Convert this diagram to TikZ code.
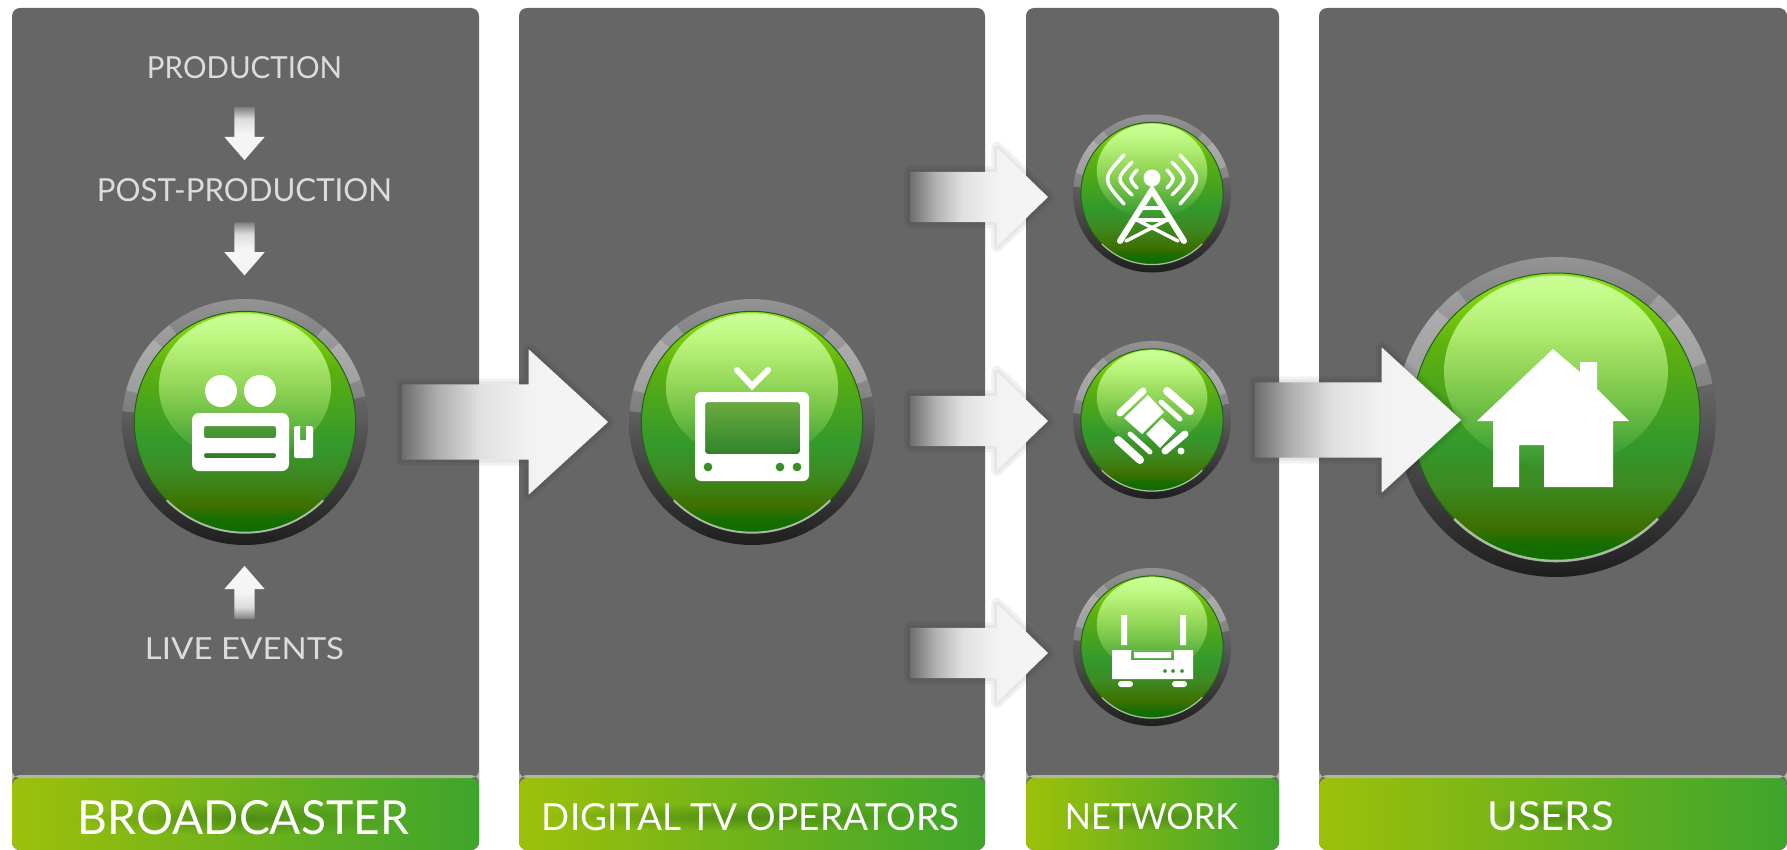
\documentclass[tikz,border=0pt]{standalone}
\usepackage{fontspec}
\setmainfont{Lato}
\usetikzlibrary{positioning, calc, shapes.geometric, shapes.arrows, fadings}
\definecolor{panelgrey}{HTML}{666666}
\definecolor{barleft}{HTML}{9DC00A}
\definecolor{barright}{HTML}{3EA52C}
\definecolor{barline}{HTML}{AEB89C}
\definecolor{halo}{HTML}{3F7A10}
\definecolor{glosscol}{HTML}{CCFF98}
\definecolor{thintext}{HTML}{DCDCDC}
\definecolor{faceedge}{HTML}{24601A}
\pgfdeclareverticalshading{facefade}{100bp}{
  rgb(0bp)=(0.06,0.42,0);
  rgb(25bp)=(0.06,0.42,0);
  rgb(28bp)=(0.09,0.43,0);
  rgb(31bp)=(0.24,0.44,0);
  rgb(38bp)=(0.24,0.54,0.13);
  rgb(45bp)=(0.20,0.60,0.17);
  rgb(53bp)=(0.28,0.64,0.12);
  rgb(62bp)=(0.36,0.69,0.06);
  rgb(71bp)=(0.50,0.82,0.06);
  rgb(75bp)=(0.56,0.88,0.13);
  rgb(100bp)=(0.56,0.88,0.13)}
\pgfdeclarehorizontalshading{arrowfade}{100bp}{
  rgb(0bp)=(0.43,0.43,0.43);
  rgb(25bp)=(0.43,0.43,0.43);
  rgb(34bp)=(0.69,0.69,0.69);
  rgb(44bp)=(0.88,0.88,0.88);
  rgb(56bp)=(0.95,0.95,0.95);
  rgb(75bp)=(0.96,0.96,0.96);
  rgb(100bp)=(0.96,0.96,0.96)}
\pgfdeclareverticalshading{dropfade}{100bp}{
  rgb(0bp)=(0.96,0.96,0.96);
  rgb(50bp)=(0.96,0.96,0.96);
  rgb(64bp)=(0.86,0.86,0.86);
  rgb(75bp)=(0.50,0.50,0.50);
  rgb(100bp)=(0.50,0.50,0.50)}
\pgfdeclareverticalshading{liftfade}{100bp}{
  rgb(0bp)=(0.50,0.50,0.50);
  rgb(25bp)=(0.50,0.50,0.50);
  rgb(36bp)=(0.86,0.86,0.86);
  rgb(50bp)=(0.96,0.96,0.96);
  rgb(100bp)=(0.96,0.96,0.96)}
\tikzfading[name=glowfade, inner color=transparent!35, outer color=transparent!100]
\tikzset{
  panel/.style={rectangle, rounded corners=8pt, fill=panelgrey, inner sep=0pt, outer sep=0pt, minimum height=842pt,
    path picture={
      \shade[left color=barleft, right color=barright] (path picture bounding box.south west) rectangle ($(path picture bounding box.south east)+(0pt,72pt)$);
      \fill[barline] ($(path picture bounding box.south west)+(0pt,72pt)$) rectangle ($(path picture bounding box.south east)+(0pt,75pt)$);
    }},
  barlabel/.style={inner sep=0pt, outer sep=0pt, text=white, preaction={fill=halo, path fading=glowfade}},
  steplabel/.style={inner sep=0pt, outer sep=0pt, text=thintext},
  ring/.style={circle, inner sep=0pt, outer sep=0pt, top color=black!42, middle color=black!65, bottom color=black!88},
  face/.style={circle, inner sep=0pt, outer sep=0pt, draw=faceedge, line width=1pt, shade, shading=facefade},
  gloss/.style={ellipse, inner sep=0pt, outer sep=0pt, fill=glosscol, path fading=south},
  glint/.style={white, opacity=.2},
  rimline/.style={white, opacity=.6},
  softedge/.style={
    preaction={draw=black, draw opacity=.05, line width=12pt, line join=round},
    preaction={draw=black, draw opacity=.05, line width=6pt, line join=round}},
  bigarrow/.style={single arrow, outer sep=0pt, softedge, inner xsep=0pt, inner ysep=37.5pt, single arrow head extend=35pt, single arrow tip angle=85, minimum height=206pt, shade, shading=arrowfade},
  smallarrow/.style={single arrow, outer sep=0pt, softedge, inner xsep=0pt, inner ysep=25pt, single arrow head extend=24pt, single arrow tip angle=88, minimum height=138pt, shade, shading=arrowfade},
  tinyarrow/.style={single arrow, outer sep=0pt, inner xsep=10pt, inner ysep=0pt, single arrow head extend=10pt, single arrow tip angle=82, minimum height=53pt},
  dropped/.style={tinyarrow, shape border rotate=270, shade, shading=dropfade},
  lifted/.style={tinyarrow, shape border rotate=90, shade, shading=liftfade},
  iconfill/.style={fill=white},
  iconline/.style={draw=white, line cap=round},
  iconhole/.style={fill=black, opacity=.15}
}
\newcommand{\gbutton}[4]{
  \node[ring, minimum size=#4pt] (#1) at (#2,#3) {};
  \draw[glint, line width=0.05*#4pt] ($(#1)+(128:0.475*#4pt)$) arc[start angle=128, end angle=175, radius=0.475*#4pt];
  \draw[glint, line width=0.05*#4pt] ($(#1)+(138:0.475*#4pt)$) arc[start angle=138, end angle=165, radius=0.475*#4pt];
  \draw[glint, line width=0.05*#4pt] ($(#1)+(12:0.475*#4pt)$) arc[start angle=12, end angle=50, radius=0.475*#4pt];
  \draw[glint, line width=0.05*#4pt] ($(#1)+(20:0.475*#4pt)$) arc[start angle=20, end angle=40, radius=0.475*#4pt];
  \node[face, minimum size=0.9*#4pt] (#1face) at (#1) {};
  \node[gloss, minimum width=0.7*#4pt, minimum height=0.6*#4pt] (#1gloss) at ($(#1)+(0pt,0.142*#4pt)$) {};
  \draw[rimline, line width=0.008*#4pt] ($(#1)+(225:0.45*#4pt)$) arc[start angle=225, end angle=315, radius=0.45*#4pt];
}
\begin{document}
\begin{tikzpicture}[x=1pt, y=-1pt, node distance=40pt]
	\useasboundingbox (0,0) rectangle (1787,850);
	\node[panel, minimum width=467pt] (bcast) at (245.5,429) {};
	\node[panel, minimum width=466pt, right=40pt of bcast] (ops) {};
	\node[panel, minimum width=253pt, right=41pt of ops] (net) {};
	\node[panel, minimum width=468pt, right=40pt of net] (users) {};

	\node[barlabel] (bcastlabel) at (243.5,818) {\resizebox{331pt}{34pt}{BROADCASTER}};
	\node[barlabel] (opslabel) at (750.5,817) {\resizebox{417pt}{27pt}{DIGITAL TV OPERATORS}};
	\node[barlabel] (netlabel) at (1151.5,817) {\resizebox{173pt}{26pt}{NETWORK}};
	\node[barlabel] (userslabel) at (1550.5,816) {\resizebox{126pt}{29pt}{USERS}};

	\node[steplabel] (prod) at (244.5,68) {\resizebox{195pt}{22pt}{PRODUCTION}};
	\node[dropped, below=28pt of prod] (prodarrow) {};
	\node[steplabel, below=18pt of prodarrow] (post) {\resizebox{295pt}{23pt}{POST-PRODUCTION}};
	\node[dropped, below=21pt of post] (postarrow) {};
	\node[steplabel] (live) at (244.5,649) {\resizebox{199pt}{22pt}{LIVE EVENTS}};
	\node[lifted, above=19pt of live] (livearrow) {};

	\gbutton{cam}{245}{422}{246}
	\gbutton{tv}{752}{422}{246}
	\gbutton{tower}{1152}{193.5}{158}
	\gbutton{sat}{1152}{420}{158}
	\gbutton{router}{1152}{647}{158}
	\gbutton{home}{1556}{417}{320}

	\fill[iconfill] (221,391) circle (16pt) (260,391) circle (16pt);
	\fill[iconhole] (204,426) rectangle (276,458);
	\fill[iconfill, even odd rule, rounded corners=7pt] (192,413) rectangle (289,471) [rounded corners=2pt] (204,426) rectangle (276,438) (204,453) rectangle (276,458);
	\fill[iconfill, even odd rule, rounded corners=2pt] (294,426) rectangle (313,458) [sharp corners] (300,426) rectangle (306,440);

	\fill[iconhole] (705,402) rectangle (800,454);
	\fill[iconfill, even odd rule, rounded corners=6pt] (695,392) rectangle (809,481) [rounded corners=3pt] (705,402) rectangle (800,454) [sharp corners] (708,467) circle (4.5pt) (780,467) circle (4.5pt) (797,467) circle (4.5pt);
	\draw[iconline, line width=6pt] (737,370) -- (752,386) -- (768,370);

	\fill[iconfill] (1152,178) circle (8.5pt);
	\draw[iconline, line width=3.5pt] (1124,155) .. controls (1102,179) .. (1124,204);
	\draw[iconline, line width=3.5pt] (1132,162) .. controls (1116,179) .. (1132,195);
	\draw[iconline, line width=3.5pt] (1137,170) .. controls (1129,179) .. (1137,188);
	\draw[iconline, line width=3.5pt] (1180,155) .. controls (1202,179) .. (1180,204);
	\draw[iconline, line width=3.5pt] (1172,162) .. controls (1188,179) .. (1172,195);
	\draw[iconline, line width=3.5pt] (1167,170) .. controls (1175,179) .. (1167,188);
	\draw[iconline, line width=6pt] (1120,241) -- (1152,190) -- (1184,241);
	\draw[iconline, line width=3.5pt] (1143,208) -- (1161,208);
	\draw[iconline, line width=3.5pt] (1137,220) -- (1167,220);
	\draw[iconline, line width=3.5pt] (1137,220) -- (1178,241);
	\draw[iconline, line width=3.5pt] (1167,220) -- (1126,241);

	\draw[iconline, line width=7pt] (1120,413) -- (1143,391);
	\fill[iconfill] (1124,418) -- (1148,395) -- (1164,412) -- (1142,434) -- cycle;
	\fill[iconfill] (1146,434) -- (1162,418) -- (1176,431) -- (1160,448) -- cycle;
	\draw[iconline, line width=7pt] (1165,451) -- (1185,434);
	\draw[iconline, line width=8pt] (1167,391) -- (1190,411);
	\draw[iconline, line width=5pt] (1161,402) -- (1180,419);
	\draw[iconline, line width=8pt] (1118,440) -- (1140,460);
	\draw[iconline, line width=5pt] (1130,434) -- (1150,452);
	\fill[iconfill] (1181,451) circle (3.5pt);

	\fill[iconfill] (1121,615) rectangle (1127,645) (1180,615) rectangle (1186,645);
	\fill[iconfill, even odd rule] (1112,650) rectangle (1193,679) (1131,650) rectangle (1174,660) (1134,652) rectangle (1171,658) (1165,671) circle (2pt) (1173,671) circle (2pt) (1182,671) circle (2pt);
	\fill[iconfill, rounded corners=3pt] (1118,681) rectangle (1133,687) (1172,681) rectangle (1187,687);

	\fill[iconfill] (1477,421) -- (1553,349) -- (1580,372) -- (1580,362) -- (1597,362) -- (1597,389) -- (1629,421) -- (1613,421) -- (1613,487) -- (1544,487) -- (1544,445) -- (1519,445) -- (1519,487) -- (1493,487) -- (1493,421) -- cycle;

	\node[bigarrow, right=34pt of cam] (camarrow) {};
	\node[bigarrow, right=24pt of sat] (homearrow) {};
	\node[smallarrow, left=25pt of tower, yshift=-3.5pt] (towerarrow) {};
	\node[smallarrow, left=25pt of sat, yshift=-1pt] (satarrow) {};
	\node[smallarrow, left=25pt of router, yshift=-6pt] (routerarrow) {};
\end{tikzpicture}
\end{document}
